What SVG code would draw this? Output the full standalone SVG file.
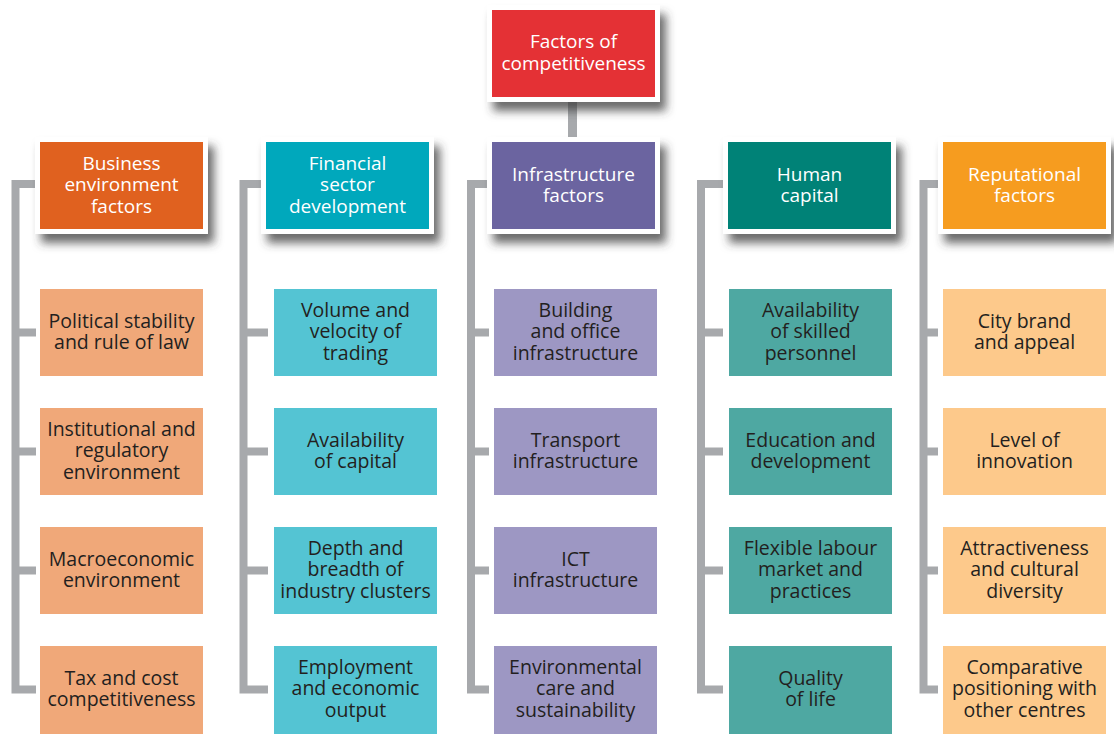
<svg xmlns="http://www.w3.org/2000/svg" width="1114" height="734" viewBox="0 0 1114 734">
<defs>
<filter id="sh" x="-20%" y="-20%" width="150%" height="160%">
<feDropShadow dx="6" dy="9" stdDeviation="5" flood-color="#3a3a3a" flood-opacity="0.75"/>
</filter>
<style>
.frame{fill:#fff;filter:url(#sh)}
.ht{font-family:"Open Sans",sans-serif;font-size:19px;fill:#fff;text-anchor:middle}
.ct{font-family:"Open Sans",sans-serif;font-size:19.5px;fill:#231f20;text-anchor:middle}
.conn{fill:none;stroke:#a7a9ac;stroke-width:8;stroke-linejoin:miter}
</style>
</defs>
<rect width="1114" height="734" fill="#fff"/>
<g id="connectors">
<line class="conn" x1="572.5" y1="100" x2="572.5" y2="142" style="stroke-width:9"/>
<path class="conn" d="M36,184 H15.5 V689.5 H36 M15.5,332.5 H36 M15.5,451.5 H36 M15.5,570.5 H36"/>
<path class="conn" d="M261,184 H243.5 V689.5 H268 M243.5,332.5 H268 M243.5,451.5 H268 M243.5,570.5 H268"/>
<path class="conn" d="M487,184 H471 V689.5 H489 M471,332.5 H489 M471,451.5 H489 M471,570.5 H489"/>
<path class="conn" d="M723,184 H701 V689.5 H723 M701,332.5 H723 M701,451.5 H723 M701,570.5 H723"/>
<path class="conn" d="M938,184 H923.5 V689.5 H938 M923.5,332.5 H938 M923.5,451.5 H938 M923.5,570.5 H938"/>
</g>
<g id="top">
<rect class="frame" x="487" y="5" width="173" height="97"/>
<rect x="492" y="10" width="163" height="87" fill="#e43135"/>
<text class="ht" x="573.5" y="48">Factors of</text>
<text class="ht" x="573.5" y="70">competitiveness</text>
</g>
<g id="h-business">
<rect class="frame" x="35" y="137" width="173" height="97"/>
<rect x="40" y="142" width="163" height="87" fill="#e0611f"/>
<text class="ht" x="121.5" y="169.5">Business</text>
<text class="ht" x="121.5" y="191">environment</text>
<text class="ht" x="121.5" y="212.5">factors</text>
</g>
<g id="h-financial">
<rect class="frame" x="261" y="137" width="173" height="97"/>
<rect x="266" y="142" width="163" height="87" fill="#00a8bc"/>
<text class="ht" x="347.5" y="169.5">Financial</text>
<text class="ht" x="347.5" y="191">sector</text>
<text class="ht" x="347.5" y="212.5">development</text>
</g>
<g id="h-infra">
<rect class="frame" x="487" y="137" width="173" height="97"/>
<rect x="492" y="142" width="163" height="87" fill="#6b64a0"/>
<text class="ht" x="573.5" y="180.5">Infrastructure</text>
<text class="ht" x="573.5" y="202">factors</text>
</g>
<g id="h-human">
<rect class="frame" x="723" y="137" width="173" height="97"/>
<rect x="728" y="142" width="163" height="87" fill="#008277"/>
<text class="ht" x="809.5" y="180.5">Human</text>
<text class="ht" x="809.5" y="202">capital</text>
</g>
<g id="h-reput">
<rect class="frame" x="938" y="137" width="173" height="97"/>
<rect x="943" y="142" width="163" height="87" fill="#f69c1f"/>
<text class="ht" x="1024.5" y="180.5">Reputational</text>
<text class="ht" x="1024.5" y="202">factors</text>
</g>

<g id="b1"><rect x="40" y="289" width="163" height="87" fill="#f0a879"/>
<text class="ct" x="121.5" y="327.5">Political stability</text><text class="ct" x="121.5" y="349">and rule of law</text></g>
<g id="b2"><rect x="40" y="408" width="163" height="87" fill="#f0a879"/>
<text class="ct" x="121.5" y="435.5">Institutional and</text><text class="ct" x="121.5" y="457">regulatory</text><text class="ct" x="121.5" y="478.5">environment</text></g>
<g id="b3"><rect x="40" y="527" width="163" height="87" fill="#f0a879"/>
<text class="ct" x="121.5" y="565.5">Macroeconomic</text><text class="ct" x="121.5" y="587">environment</text></g>
<g id="b4"><rect x="40" y="646" width="163" height="88" fill="#f0a879"/>
<text class="ct" x="121.5" y="684.5">Tax and cost</text><text class="ct" x="121.5" y="706">competitiveness</text></g>

<g id="f1"><rect x="274" y="289" width="163" height="87" fill="#54c4d3"/>
<text class="ct" x="355.5" y="316.5">Volume and</text><text class="ct" x="355.5" y="338">velocity of</text><text class="ct" x="355.5" y="359.5">trading</text></g>
<g id="f2"><rect x="274" y="408" width="163" height="87" fill="#54c4d3"/>
<text class="ct" x="355.5" y="446.5">Availability</text><text class="ct" x="355.5" y="468">of capital</text></g>
<g id="f3"><rect x="274" y="527" width="163" height="87" fill="#54c4d3"/>
<text class="ct" x="355.5" y="554.5">Depth and</text><text class="ct" x="355.5" y="576">breadth of</text><text class="ct" x="355.5" y="597.5">industry clusters</text></g>
<g id="f4"><rect x="274" y="646" width="163" height="88" fill="#54c4d3"/>
<text class="ct" x="355.5" y="673.5">Employment</text><text class="ct" x="355.5" y="695">and economic</text><text class="ct" x="355.5" y="716.5">output</text></g>

<g id="i1"><rect x="494" y="289" width="163" height="87" fill="#9d97c3"/>
<text class="ct" x="575.5" y="316.5">Building</text><text class="ct" x="575.5" y="338">and office</text><text class="ct" x="575.5" y="359.5">infrastructure</text></g>
<g id="i2"><rect x="494" y="408" width="163" height="87" fill="#9d97c3"/>
<text class="ct" x="575.5" y="446.5">Transport</text><text class="ct" x="575.5" y="468">infrastructure</text></g>
<g id="i3"><rect x="494" y="527" width="163" height="87" fill="#9d97c3"/>
<text class="ct" x="575.5" y="565.5">ICT</text><text class="ct" x="575.5" y="587">infrastructure</text></g>
<g id="i4"><rect x="494" y="646" width="163" height="88" fill="#9d97c3"/>
<text class="ct" x="575.5" y="673.5">Environmental</text><text class="ct" x="575.5" y="695">care and</text><text class="ct" x="575.5" y="716.5">sustainability</text></g>

<g id="u1"><rect x="729" y="289" width="163" height="87" fill="#4ea8a2"/>
<text class="ct" x="810.5" y="316.5">Availability</text><text class="ct" x="810.5" y="338">of skilled</text><text class="ct" x="810.5" y="359.5">personnel</text></g>
<g id="u2"><rect x="729" y="408" width="163" height="87" fill="#4ea8a2"/>
<text class="ct" x="810.5" y="446.5">Education and</text><text class="ct" x="810.5" y="468">development</text></g>
<g id="u3"><rect x="729" y="527" width="163" height="87" fill="#4ea8a2"/>
<text class="ct" x="810.5" y="554.5">Flexible labour</text><text class="ct" x="810.5" y="576">market and</text><text class="ct" x="810.5" y="597.5">practices</text></g>
<g id="u4"><rect x="729" y="646" width="163" height="88" fill="#4ea8a2"/>
<text class="ct" x="810.5" y="684.5">Quality</text><text class="ct" x="810.5" y="706">of life</text></g>

<g id="r1"><rect x="943" y="289" width="163" height="87" fill="#fdc98b"/>
<text class="ct" x="1024.5" y="327.5">City brand</text><text class="ct" x="1024.5" y="349">and appeal</text></g>
<g id="r2"><rect x="943" y="408" width="163" height="87" fill="#fdc98b"/>
<text class="ct" x="1024.5" y="446.5">Level of</text><text class="ct" x="1024.5" y="468">innovation</text></g>
<g id="r3"><rect x="943" y="527" width="163" height="87" fill="#fdc98b"/>
<text class="ct" x="1024.5" y="554.5">Attractiveness</text><text class="ct" x="1024.5" y="576">and cultural</text><text class="ct" x="1024.5" y="597.5">diversity</text></g>
<g id="r4"><rect x="943" y="646" width="163" height="88" fill="#fdc98b"/>
<text class="ct" x="1024.5" y="673.5">Comparative</text><text class="ct" x="1024.5" y="695">positioning with</text><text class="ct" x="1024.5" y="716.5">other centres</text></g>
</svg>
